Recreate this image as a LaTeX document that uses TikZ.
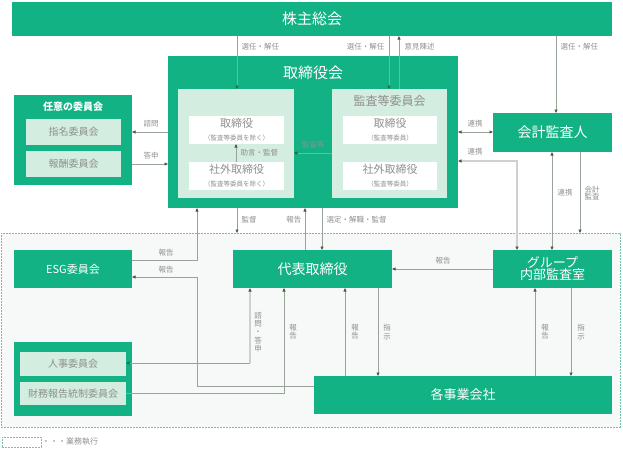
\documentclass[tikz,border=0pt]{standalone}
\usepackage{fontspec}
\setmainfont{Noto Sans CJK JP}
\usetikzlibrary{arrows.meta}
\definecolor{gr}{HTML}{12B284}
\definecolor{lg}{HTML}{D3EDE0}
\definecolor{ln}{HTML}{9AA39A}
\definecolor{lnl}{HTML}{D0D0D0}
\definecolor{ah}{HTML}{3F5F3F}
\definecolor{tx}{HTML}{8F8F8F}
\definecolor{bgc}{HTML}{F7F8F8}
\definecolor{dsh}{HTML}{6FC4A8}
\newcommand{\fs}[1]{\fontsize{#1}{#1}\selectfont}
\tikzset{
  myt/.tip={Triangle[length=3.5pt,width=3pt,color=ah]},
  base/.style={inner sep=0pt, outer sep=0pt, anchor=north west, draw=none},
  gbox/.style={base, fill=gr, text=white},
  lbox/.style={base, fill=lg, text=tx},
  wbox/.style={base, fill=white, text=tx, align=center},
  lab/.style={font=\fs{7.5}, text=tx, inner sep=0.5pt},
  vlab/.style={font=\fontsize{7.5}{8.3}\selectfont, text=tx, inner sep=0.5pt, align=center},
  ar/.style={draw=ln, line width=0.6pt, -myt},
  arb/.style={draw=ln, line width=0.6pt, myt-myt},
  arl/.style={draw=lnl, line width=1.1pt, myt-myt},
}
\begin{document}
\begin{tikzpicture}[x=1pt,y=-1pt]
\useasboundingbox (0,0) rectangle (623,455);
% execution region
\node[base, fill=bgc, draw=dsh, line width=0.6pt, dash pattern=on 2pt off 1pt, minimum width=619pt, minimum height=194pt] (exec) at (1,233) {};
% top
\node[gbox, minimum width=600pt, minimum height=34pt, font=\fs{15}] (soukai) at (12,2) {株主総会};
% board
\node[gbox, minimum width=290pt, minimum height=152pt] (tbk) at (168,56) {};
\node[text=white, font=\fs{15}, inner sep=0pt] (tbkt) at (313,73) {取締役会};
\node[lbox, minimum width=116pt, minimum height=109pt] (lin) at (178,89) {};
\node[lbox, minimum width=115pt, minimum height=109pt] (rin) at (332,89) {};
\node[text=tx, font=\fs{12}, inner sep=0pt] (rint) at (389.5,101) {監査等委員会};
\node[wbox, minimum width=95pt, minimum height=28pt] (wl1) at (189,116) {{\fs{11}取締役}\\[1pt]{\fs{6.5}（監査等委員を除く）}};
\node[wbox, minimum width=95pt, minimum height=28pt] (wl2) at (189,162) {{\fs{11}社外取締役}\\[1pt]{\fs{6.5}（監査等委員を除く）}};
\node[wbox, minimum width=94pt, minimum height=28pt] (wr1) at (343,116) {{\fs{11}取締役}\\[1pt]{\fs{6.5}（監査等委員）}};
\node[wbox, minimum width=94pt, minimum height=28pt] (wr2) at (343,162) {{\fs{11}社外取締役}\\[1pt]{\fs{6.5}（監査等委員）}};
% optional committees
\node[gbox, minimum width=118pt, minimum height=90pt] (nini) at (14,95) {};
\node[text=white, font=\fs{10}\bfseries, inner sep=0pt] (ninit) at (73,107) {任意の委員会};
\node[lbox, minimum width=95pt, minimum height=26pt, font=\fs{10}] (shimei) at (26,119) {指名委員会};
\node[lbox, minimum width=95pt, minimum height=26pt, font=\fs{10}] (houshu) at (26,151) {報酬委員会};
% auditor
\node[gbox, minimum width=119pt, minimum height=39pt, font=\fs{14}] (kaikei) at (493,113) {会計監査人};
% execution
\node[gbox, minimum width=118pt, minimum height=38pt, font=\fs{11}] (esg) at (14,250) {ESG委員会};
\node[gbox, minimum width=159pt, minimum height=38pt, font=\fs{14}] (daihyo) at (233,250) {代表取締役};
\node[gbox, minimum width=119pt, minimum height=38pt, font=\fs{13}, align=center] (group) at (493,250) {グループ\\[-1pt]内部監査室};
\node[gbox, minimum width=298pt, minimum height=38pt, font=\fs{13}] (jigyo) at (314,376) {各事業会社};
\node[gbox, minimum width=118pt, minimum height=74pt] (blg) at (14,342) {};
\node[lbox, minimum width=106pt, minimum height=24pt, font=\fs{10}] (jinji) at (20,352) {人事委員会};
\node[lbox, minimum width=106pt, minimum height=23pt, font=\fs{10}] (zaimu) at (20,382) {財務報告統制委員会};
% legend
\node[base, fill=white, draw=dsh, line width=0.6pt, dash pattern=on 2pt off 1pt, minimum width=39pt, minimum height=10pt] (leg) at (2,437) {};
\node[anchor=west, font=\fs{8}, text=tx, inner sep=0pt] (legt) at ([xshift=1pt]leg.east) {・・・業務執行};
% connectors from general meeting
\draw[ar] (soukai.south -| 237,0) -- (lin.north -| 237,0);
\node[lab, anchor=west] at (241,47) {選任・解任};
\draw[ar] (soukai.south -| 389,0) -- (rin.north -| 389,0);
\node[lab, anchor=east] at (385,47) {選任・解任};
\draw[ar] (rin.north -| 399,0) -- (soukai.south -| 399,0);
\node[lab, anchor=west] at (404,47) {意見陳述};
\draw[ar] (soukai.south -| 556,0) -- (kaikei.north -| 556,0);
\node[lab, anchor=west] at (560,47) {選任・解任};
% inside board
\draw[ar] (wl2.north -| 236,0) -- (wl1.south -| 236,0);
\node[lab, anchor=west] at (240,153) {助言・監督};
\draw[ar] (rin.west |- 0,153) -- (lin.east |- 0,153);
\node[lab] at (313,145) {監査等};
% optional committees
\draw[ar] (tbk.west |- 0,132) -- (nini.east |- 0,132);
\node[lab] at (151,124) {諮問};
\draw[ar] (nini.east |- 0,164) -- (tbk.west |- 0,164);
\node[lab] at (151,156) {答申};
% auditor
\draw[arb] (tbk.east |- 0,132) -- (kaikei.west |- 0,132);
\node[lab] at (475,124) {連携};
\draw[arl] (tbk.east |- 0,161) -- (517,161) -- (group.north -| 517,0);
\node[lab] at (475,152) {連携};
\draw[arb] (kaikei.south -| 552,0) -- (group.north -| 552,0);
\node[lab, anchor=west] at (557,193) {連携};
\draw[ar] (kaikei.south -| 580,0) -- (exec.north -| 580,0);
\node[lab, anchor=west, align=left] at (584,193) {会計\\監査};
% board <-> execution
\draw[ar] (tbk.south -| 237,0) -- (exec.north -| 237,0);
\node[lab, anchor=west] at (241,220) {監督};
\draw[ar] (daihyo.north -| 305,0) -- (tbk.south -| 305,0);
\node[lab, anchor=east] at (302,220) {報告};
\draw[ar] (tbk.south -| 322,0) -- (daihyo.north -| 322,0);
\node[lab, anchor=west] at (326,220) {選定・解職・監督};
% ESG
\draw[ar] (esg.east |- 0,260) -- (197,260) -- (tbk.south -| 197,0);
\node[lab] at (166,253) {報告};
\draw[ar] (jigyo.west |- 0,386) -- (197,386) -- (197,277) -- (esg.east |- 0,277);
\node[lab] at (166,270) {報告};
% group -> daihyo
\draw[ar] (group.west |- 0,269) -- (daihyo.east |- 0,269);
\node[lab] at (443,261) {報告};
% bottom-left committees
\draw[draw=lnl, line width=1.1pt, -myt] (250,363) -- (daihyo.south -| 250,0);
\draw[ar] (250,363) -- (jinji.east |- 0,363);
\node[vlab] at (258,332) {諮\\問\\・\\答\\申};
\draw[ar] (zaimu.east |- 0,393) -- (284,393) -- (daihyo.south -| 284,0);
\node[vlab] at (293,332) {報\\告};
% daihyo <-> jigyo
\draw[ar] (jigyo.north -| 345,0) -- (daihyo.south -| 345,0);
\node[vlab] at (355,332) {報\\告};
\draw[ar] (daihyo.south -| 378,0) -- (jigyo.north -| 378,0);
\node[vlab] at (387,332) {指\\示};
% group <-> jigyo
\draw[ar] (jigyo.north -| 535,0) -- (group.south -| 535,0);
\node[vlab] at (545,332) {報\\告};
\draw[ar] (group.south -| 571,0) -- (jigyo.north -| 571,0);
\node[vlab] at (581,332) {指\\示};
\end{tikzpicture}
\end{document}
